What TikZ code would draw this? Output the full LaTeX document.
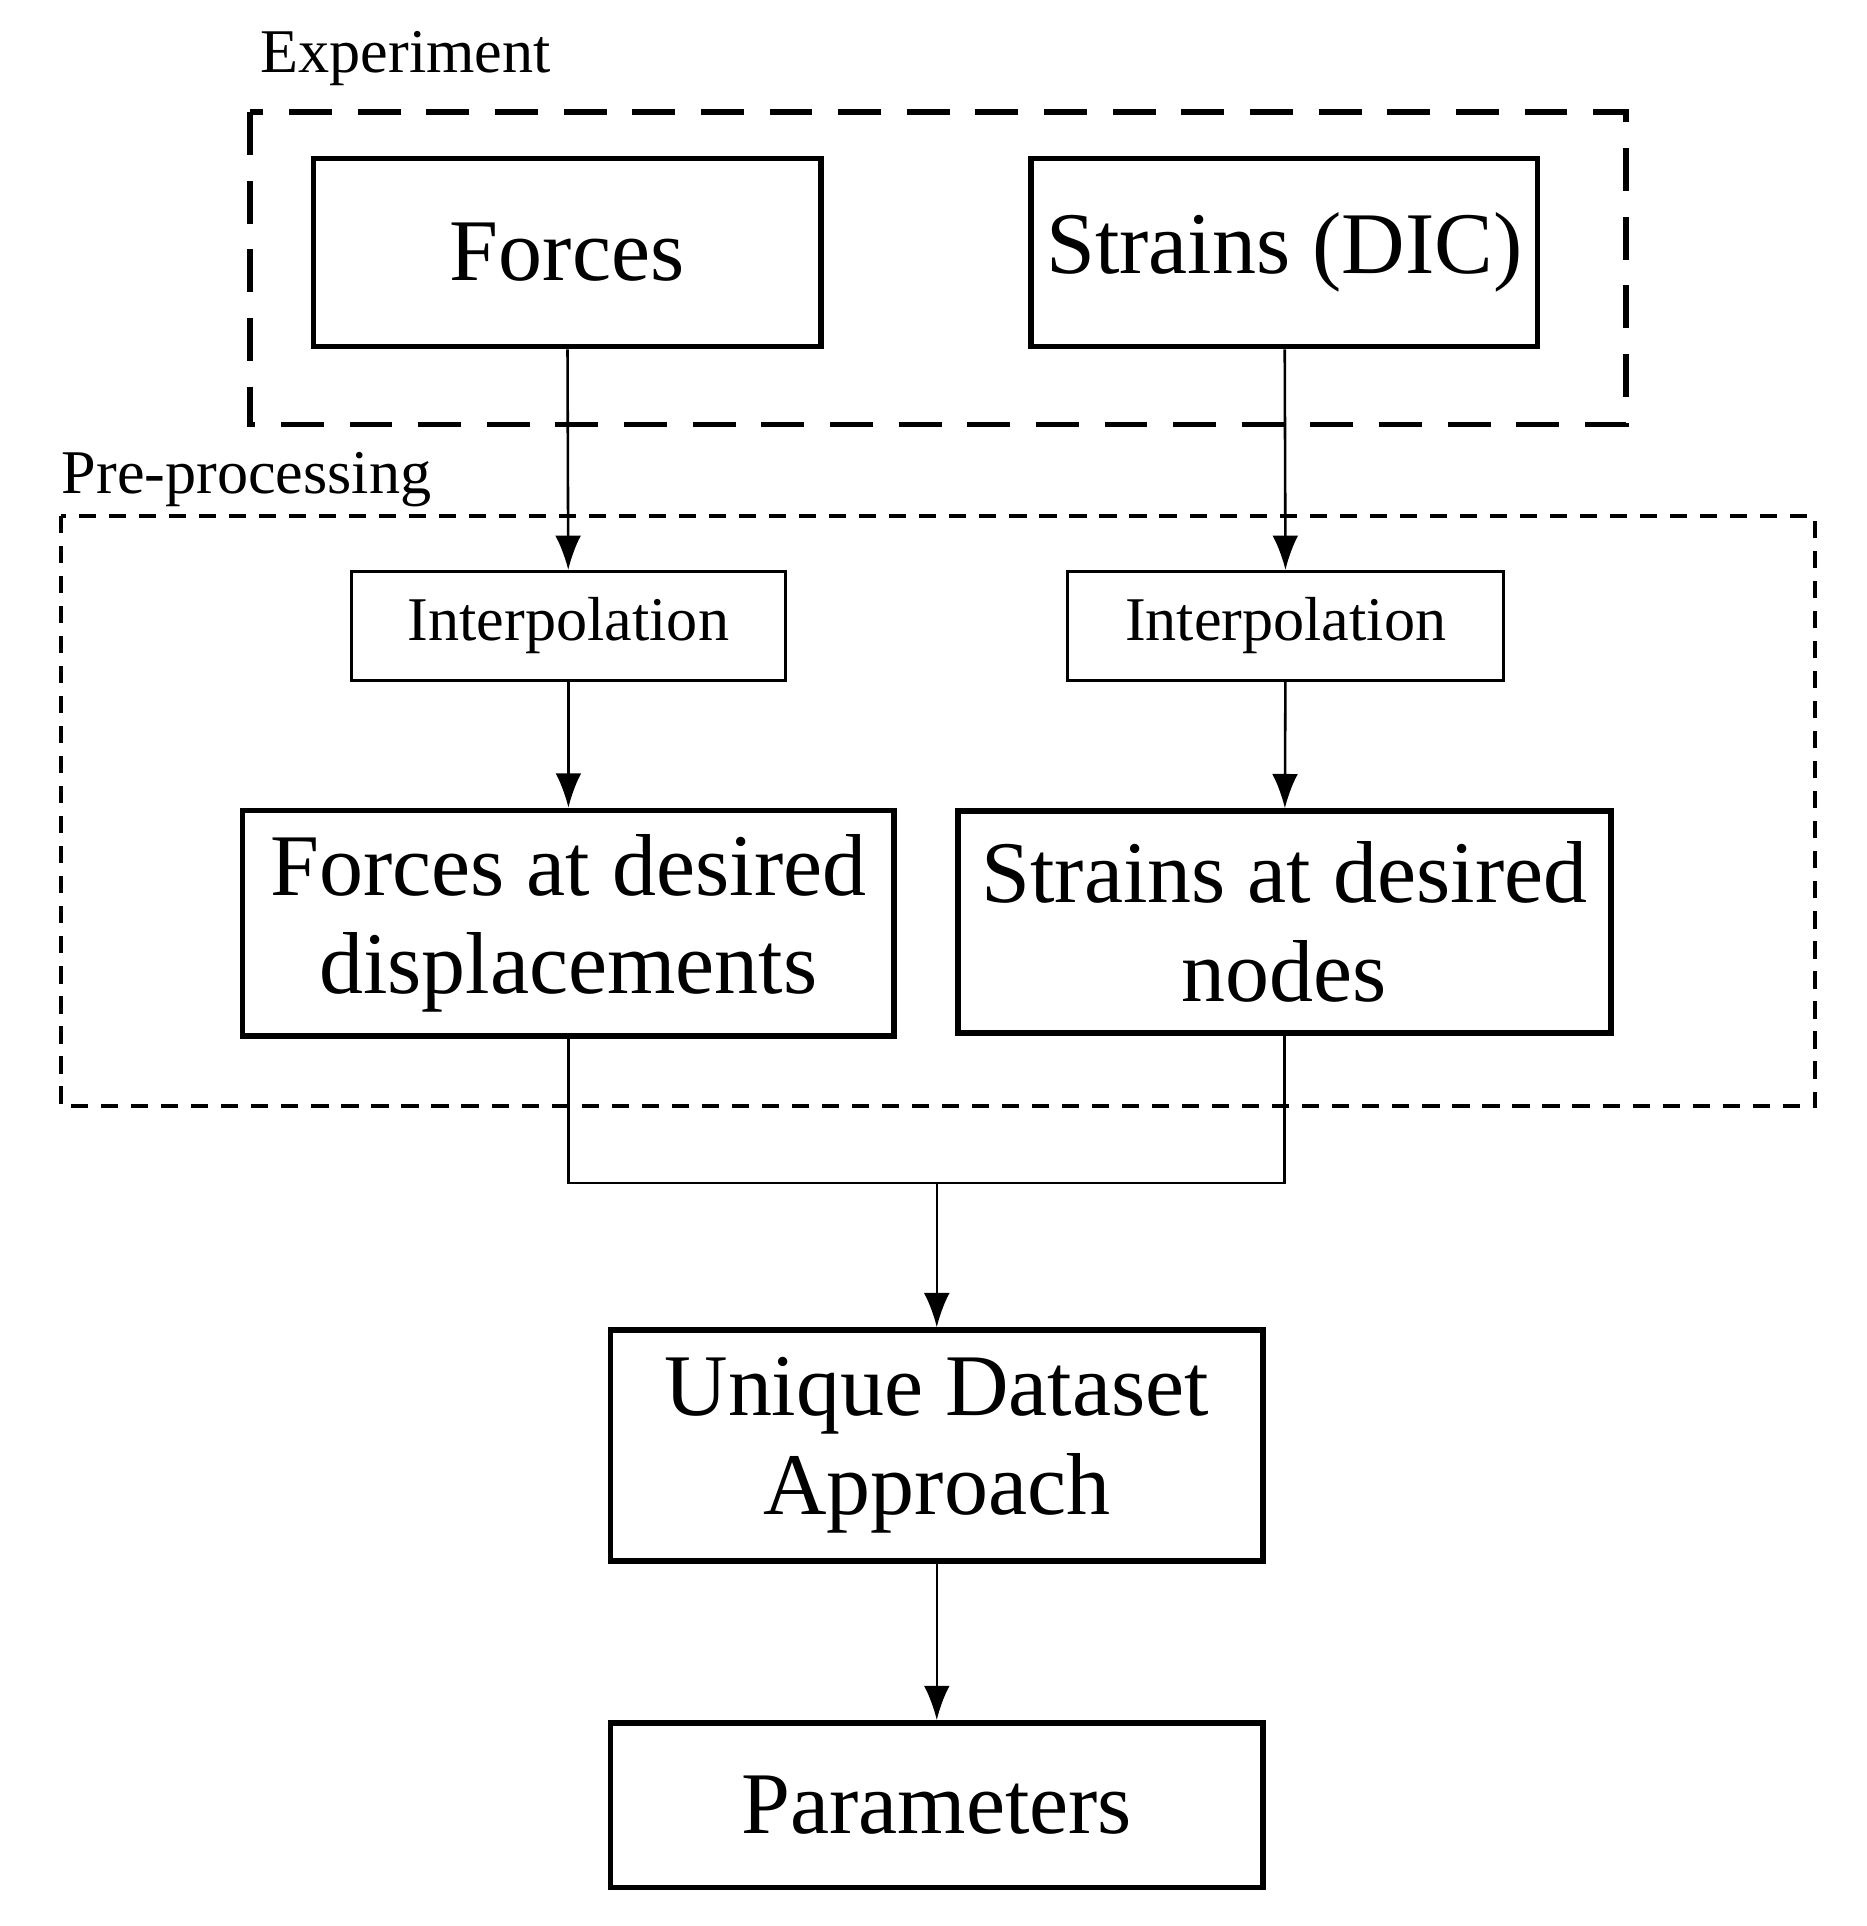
\documentclass[tikz,border=0pt]{standalone}
\usepackage{fontspec}
\setmainfont{Liberation Serif}
\usetikzlibrary{arrows.meta}
\begin{document}
\begin{tikzpicture}[x=0.01cm,y=-0.01cm,
  big/.style={draw,line width=1.3pt,align=center,inner sep=0pt,font=\fontsize{20.5}{23}\selectfont},
  small/.style={draw,line width=0.7pt,align=center,inner sep=0pt,font=\fontsize{14.5}{17}\selectfont},
  lbl/.style={anchor=west,inner sep=0pt,font=\fontsize{14.5}{17}\selectfont},
  arr/.style={-{Latex[length=8pt,width=6pt]},line width=0.6pt},
  ln/.style={line width=0.6pt}]
\useasboundingbox (0,0) rectangle (1530,1579);
\draw[line width=1.3pt,dash pattern=on 10pt off 6pt] (205,92) rectangle (1333,348);
\node[lbl] (le) at (213,48) {Experiment};
\draw[line width=1pt,dash pattern=on 4pt off 3pt] (50,423) rectangle (1488,907);
\node[lbl] (lp) at (50,393) {Pre-processing};
\node[big,minimum width=4.16cm,minimum height=1.54cm] (f) at (465,207) {Forces};
\node[big,minimum width=4.15cm,minimum height=1.54cm] (s) at (1053,207) {Strains (DIC)};
\node[small,minimum width=3.56cm,minimum height=0.89cm] (i1) at (466,513) {Interpolation};
\node[small,minimum width=3.57cm,minimum height=0.89cm] (i2) at (1054,513) {Interpolation};
\node[big,minimum width=5.34cm,minimum height=1.85cm] (fd) at (466,757) {Forces at desired\\displacements};
\node[big,minimum width=5.35cm,minimum height=1.82cm] (sd) at (1053,756) {Strains at desired\\nodes};
\node[big,minimum width=5.35cm,minimum height=1.89cm] (u) at (768,1185) {Unique Dataset\\Approach};
\node[big,minimum width=5.35cm,minimum height=1.35cm] (p) at (768,1480) {Parameters};
\coordinate (j) at (768,970);
\draw[arr] (f) -- (i1);
\draw[arr] (s) -- (i2);
\draw[arr] (i1) -- (fd);
\draw[arr] (i2) -- (sd);
\draw[ln] (fd.south) |- (j) -| (sd.south);
\draw[arr] (j) -- (u);
\draw[arr] (u) -- (p);
\end{tikzpicture}
\end{document}
